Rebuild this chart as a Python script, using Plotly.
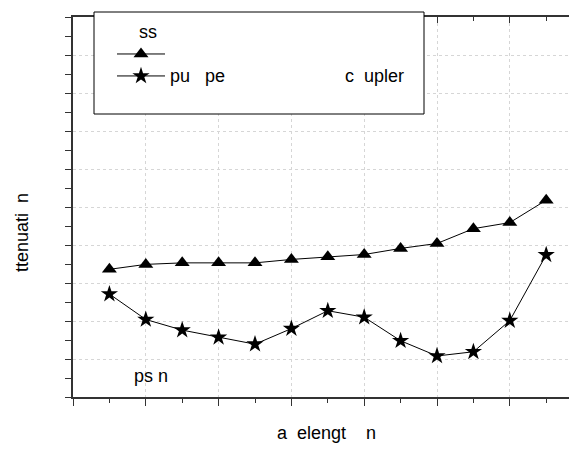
import plotly.graph_objects as go

NB = "\u00a0"

# ---- data ----
x_pos = [0.5, 1.0, 1.5, 2.0, 2.5, 3.0, 3.5, 4.0, 4.5, 5.0, 5.5, 6.0, 6.5]
loss_tri = [3.36, 3.49, 3.53, 3.53, 3.53, 3.62, 3.69, 3.75, 3.91, 4.04, 4.43, 4.59, 5.18]
loss_star = [2.71, 2.04, 1.76, 1.57, 1.39, 1.80, 2.27, 2.10, 1.48, 1.08, 1.19, 2.01, 3.74]

legend_title = NB * 5 + "ss"
name_tri = NB
name_star = "pu" + NB * 3 + "pe" + NB * 24 + "c" + NB * 2 + "upler"
x_title = "a" + NB * 2 + "elengt" + NB * 4 + "n"
y_title = "ttenuati" + NB * 2 + "n"
note_text = "ps n"

FONT = "Liberation Sans, Arial, sans-serif"
W, H = 577, 451
OFF = 8                       # page body margin
P_L, P_T, P_B = 73, 17, 397   # plot area edges in page pixels
PW = 504
PH = P_B - P_T
X_UNIT = 72.8
x_max = PW / X_UNIT
M_L, M_T = P_L - OFF, P_T - OFF
M_B = H - (P_B - OFF)
M_R = W - M_L - PW
GRID = "#d6d6d6"


def px(p):
    return (p - P_L) / PW


def py(p):
    return (P_B - p) / PH


def big(s):
    return '<span style="font-size:18px">' + s + '</span>'


fig = go.Figure()
fig.add_trace(go.Scatter(
    x=x_pos, y=loss_tri, mode="lines+markers", name=big(name_tri),
    line=dict(color="black", width=1),
    marker=dict(symbol="triangle-up", size=13, color="black"),
))
fig.add_trace(go.Scatter(
    x=x_pos, y=loss_star, mode="lines+markers", name=big(name_star),
    line=dict(color="black", width=1),
    marker=dict(symbol="star", size=13, color="black"),
))

axis_line = dict(showline=True, linecolor="#333333", linewidth=1.5, zeroline=False,
                 showticklabels=False)

fig.update_layout(
    width=W, height=H,
    margin=dict(l=M_L, r=M_R, t=M_T, b=M_B, pad=0, autoexpand=False),
    paper_bgcolor="white", plot_bgcolor="white",
    font=dict(family=FONT, size=18, color="black"),
    showlegend=True,
    xaxis=dict(range=[0, x_max], dtick=1, tick0=0, ticks="outside", ticklen=7,
               tickcolor="#333333", tickwidth=1.2,
               showgrid=True, gridcolor=GRID, griddash="dot", gridwidth=1,
               minor=dict(dtick=0.5, ticks="outside", ticklen=4, tickcolor="#333333",
                          showgrid=False),
               **axis_line),
    xaxis2=dict(range=[0, x_max], dtick=1, tick0=0, overlaying="x", side="top",
                ticks="inside", ticklen=6, tickcolor="#333333", tickwidth=1.2,
                showgrid=False,
                minor=dict(dtick=0.5, ticks="inside", ticklen=4, tickcolor="#333333"),
                **axis_line),
    yaxis=dict(range=[0, 10], dtick=1, tick0=0, ticks="outside", ticklen=6,
               tickcolor="#333333", tickwidth=1.2,
               showgrid=True, gridcolor=GRID, griddash="dot", gridwidth=1,
               minor=dict(dtick=0.5, ticks="outside", ticklen=6, tickcolor="#333333",
                          showgrid=False),
               **axis_line),
    yaxis2=dict(range=[0, 10], dtick=1, tick0=0, overlaying="y", side="right",
                ticks="inside", ticklen=5, tickcolor="#333333", tickwidth=1.2,
                showgrid=False, showline=False, zeroline=False, showticklabels=False,
                minor=dict(dtick=0.5, ticks="inside", ticklen=4, tickcolor="#333333")),
    legend=dict(
        x=px(112), y=py(19), xanchor="left", yanchor="top",
        bgcolor="rgba(0,0,0,0)", borderwidth=0,
        title=dict(text=big(legend_title), font=dict(size=14.6)),
        font=dict(size=14.6, family=FONT), itemwidth=48,
        tracegroupgap=0,
    ),
    shapes=[dict(type="rect", xref="paper", yref="paper",
                 x0=px(94), x1=px(424), y0=py(114), y1=py(12),
                 line=dict(color="black", width=1), fillcolor="white", layer="above")],
    annotations=[
        dict(text=y_title, xref="paper", yref="paper", x=px(22), y=py(233),
             showarrow=False, textangle=-90, font=dict(size=18),
             xanchor="center", yanchor="middle"),
        dict(text=x_title, xref="paper", yref="paper", x=px(326), y=py(433),
             showarrow=False, font=dict(size=18), xanchor="center", yanchor="middle"),
        dict(text=note_text, xref="x", yref="y", x=(151 - P_L) / X_UNIT,
             y=(P_B - 376) / (PH / 10.0),
             showarrow=False, font=dict(size=18), xanchor="center", yanchor="middle"),
    ],
)

# invisible trace that activates the mirrored top/right axes
fig.add_trace(go.Scatter(x=[None], y=[None], xaxis="x2", yaxis="y2", showlegend=False,
                         hoverinfo="skip"))

fig.write_html("out.html")
